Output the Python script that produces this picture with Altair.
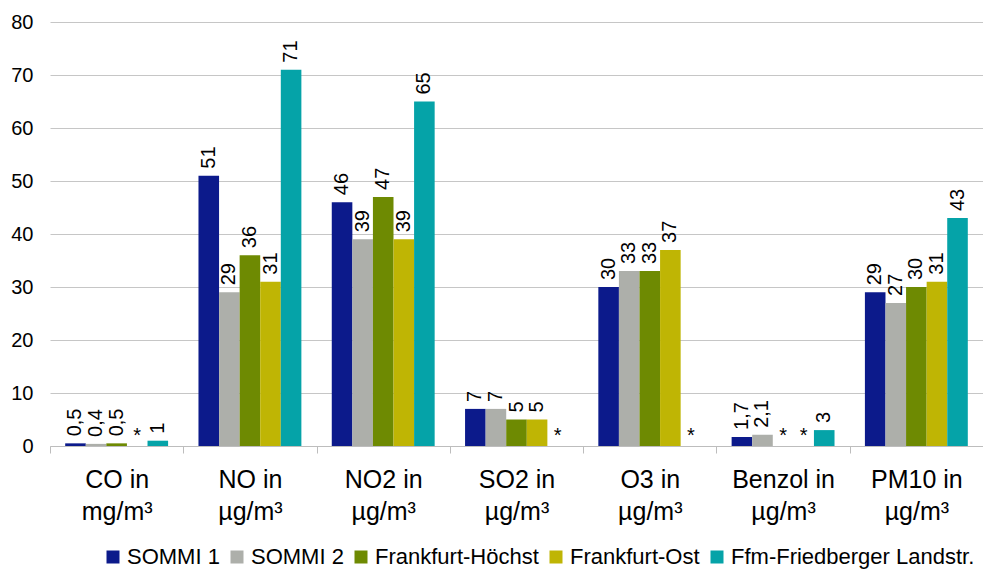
import altair as alt
import pandas as pd

categories = ["CO in mg/m³", "NO in µg/m³", "NO2 in µg/m³", "SO2 in µg/m³",
              "O3 in µg/m³", "Benzol in µg/m³", "PM10 in µg/m³"]
series = ["SOMMI 1", "SOMMI 2", "Frankfurt-Höchst", "Frankfurt-Ost",
          "Ffm-Friedberger Landstr."]
sommi1 = [0.5, 51, 46, 7, 30, 1.7, 29]
sommi2 = [0.4, 29, 39, 7, 33, 2.1, 27]
hoechst = [0.5, 36, 47, 5, 33, None, 30]
ost = [None, 31, 39, 5, 37, None, 31]
ffm = [1, 71, 65, None, None, 3, 43]
colors = ["#0c1a8b", "#adafaa", "#6e8a02", "#bfb504", "#05a3a8"]

rows = []
for s, vals in zip(series, [sommi1, sommi2, hoechst, ost, ffm]):
    for c, v in zip(categories, vals):
        rows.append({"category": c, "series": s, "value": v})
df = pd.DataFrame(rows)

FONT = "Liberation Sans"
W = 933
STEP = W / len(categories)

base = alt.Chart(df).encode(
    x=alt.X("category:N", sort=categories,
            scale=alt.Scale(paddingInner=0.228, paddingOuter=0.114),
            axis=alt.Axis(title=None, labelAngle=0, labelFontSize=25, labelFont=FONT,
                          labelColor="black", labelLineHeight=32, labelPadding=14,
                          labelExpr="[substring(datum.label, 0, indexof(datum.label, ' in ') + 3), substring(datum.label, indexof(datum.label, ' in ') + 4)]",
                          tickSize=7, tickColor="#bdbdbd", domainColor="#bdbdbd",
                          tickOffset=-STEP / 2, labelOffset=STEP / 2, grid=False,
                          labelLimit=300)),
    xOffset=alt.XOffset("series:N", sort=series,
                        scale=alt.Scale(paddingInner=0, paddingOuter=0)),
)

bars = base.transform_filter("isValid(datum.value)").mark_bar().encode(
    y=alt.Y("value:Q", scale=alt.Scale(domain=[0, 80], nice=False),
            axis=alt.Axis(title=None, values=list(range(0, 81, 10)), domain=False,
                          ticks=False, grid=True, gridColor="#c6c6c6",
                          labelFontSize=20, labelFont=FONT, labelColor="black",
                          labelPadding=17)),
    color=alt.Color("series:N", sort=series,
                    scale=alt.Scale(domain=series, range=colors),
                    legend=alt.Legend(title=None, orient="none", legendX=52, legendY=524,
                                      direction="horizontal", symbolType="square",
                                      symbolSize=169, symbolStrokeWidth=0,
                                      labelFontSize=22, labelFont=FONT, labelColor="black",
                                      columnPadding=6, labelOffset=3, labelLimit=400)),
)

labels = base.transform_filter("isValid(datum.value)").transform_calculate(
    lbl="replace(toString(datum.value), '.', ',')"
).mark_text(angle=270, align="left", baseline="middle", dx=7, fontSize=20,
            font=FONT, color="black").encode(
    y=alt.Y("value:Q"),
    text="lbl:N",
)

stars = base.transform_filter("!isValid(datum.value)").transform_calculate(
    zero="0", star="'*'"
).mark_text(baseline="alphabetic", dy=-4, fontSize=20, font=FONT, color="black").encode(
    y=alt.Y("zero:Q"),
    text="star:N",
)

chart = alt.layer(bars, labels, stars).properties(
    width=W, height=424,
    autosize=alt.AutoSizeParams(type="none"),
    padding={"left": 42, "top": 14, "right": 0, "bottom": 127},
).configure_view(stroke=None)

chart.save("out.html", embed_options={"renderer": "svg", "actions": False})
